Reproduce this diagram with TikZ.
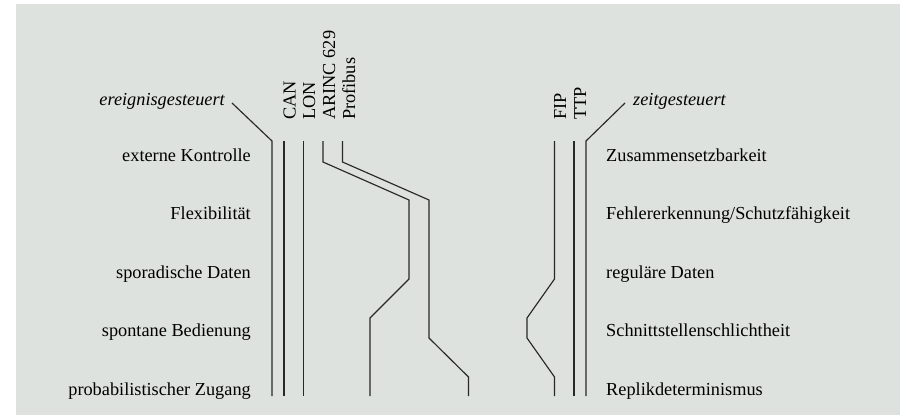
\documentclass[tikz,border=0pt]{standalone}
\usepackage{fontspec}
\setmainfont{Liberation Serif}
\definecolor{bggray}{RGB}{221,226,222}
\definecolor{linecol}{RGB}{40,40,40}
\begin{document}
\begin{tikzpicture}[x=1pt,y=-1pt,
  lbl/.style={inner sep=0pt,font=\fontsize{18.3}{21}\selectfont},
  leftlbl/.style={lbl,anchor=base east},
  rightlbl/.style={lbl,anchor=base west},
  buslbl/.style={lbl,anchor=base west,rotate=90},
  busline/.style={draw=linecol,line width=1.15pt,line join=miter}]
\useasboundingbox (0,0) rectangle (908,415);
\fill[bggray] (16,4) rectangle (900,415);
% italic headings
\node[leftlbl,font=\fontsize{18.3}{21}\selectfont\itshape] (ev) at (225,105.5) {ereignisgesteuert};
\node[rightlbl,font=\fontsize{18.3}{21}\selectfont\itshape] (tt) at (633,105.5) {zeitgesteuert};
% left criteria
\node[leftlbl] (l1) at (251,161) {externe Kontrolle};
\node[leftlbl] (l2) at (251,219.5) {Flexibilität};
\node[leftlbl] (l3) at (251,278) {sporadische Daten};
\node[leftlbl] (l4) at (251,336.5) {spontane Bedienung};
\node[leftlbl] (l5) at (251,395) {probabilistischer Zugang};
% right criteria
\node[rightlbl] (r1) at (606,161) {Zusammensetzbarkeit};
\node[rightlbl] (r2) at (606,219.5) {Fehlererkennung/Schutzfähigkeit};
\node[rightlbl] (r3) at (606,278) {reguläre Daten};
\node[rightlbl] (r4) at (606,336.5) {Schnittstellenschlichtheit};
\node[rightlbl] (r5) at (606,395) {Replikdeterminismus};
% bus names
\node[buslbl] (can) at (295.5,120) {CAN};
\node[buslbl] (lon) at (315,120) {LON};
\node[buslbl] (arinc) at (335,120) {ARINC 629};
\node[buslbl] (prof) at (355,120) {Profibus};
\node[buslbl] (fip) at (566,120) {FIP};
\node[buslbl] (ttp) at (586,120) {TTP};
% lines
\draw[busline] (232,103) -- (272,141) -- (272,396);
\draw[busline] (284,141) -- (284,396);
\draw[busline] (303.5,141) -- (303.5,396);
\draw[busline] (323,141) -- (323,162) -- (409,200) -- (409,279) -- (370,318) -- (370,396);
\draw[busline] (342.5,141) -- (342.5,162) -- (429,200) -- (429,338) -- (468.5,377) -- (468.5,396);
\draw[busline] (554.5,141) -- (554.5,279) -- (527,318) -- (527,338) -- (554.5,377) -- (554.5,396);
\draw[busline] (574,141) -- (574,396);
\draw[busline] (625,103) -- (586,141) -- (586,396);
\end{tikzpicture}
\end{document}
